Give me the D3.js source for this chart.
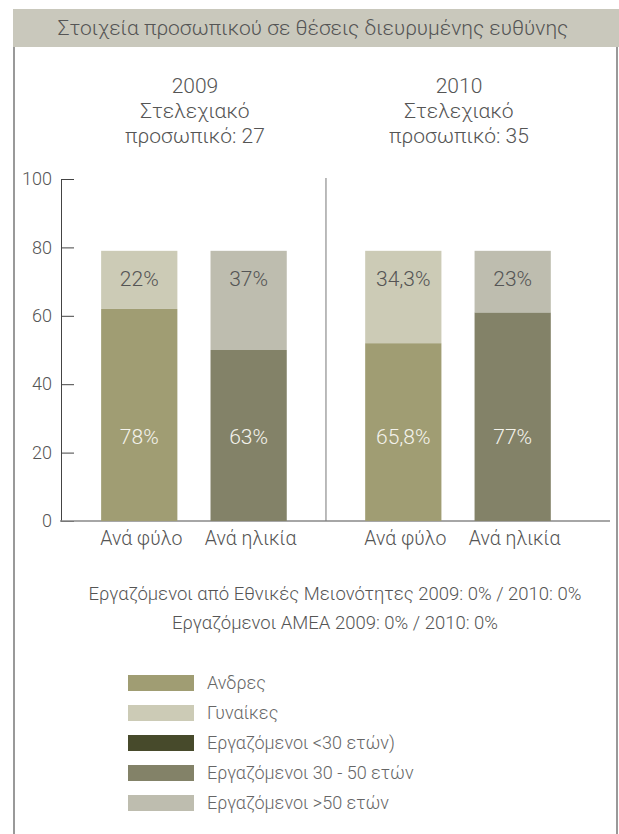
<!DOCTYPE html>
<html lang="el">

<head>
    <meta charset="UTF-8">
    <script src="https://cdn.jsdelivr.net/npm/d3@7"></script>
    <style>
        body {
            margin: 0;
            background: #fff;
        }

        svg text {
            font-family: Roboto, "Noto Sans", sans-serif;
            font-weight: 300;
            fill: #555;
        }

        .axis .domain {
            stroke: #444;
        }

        .axis .tick line {
            stroke: #444;
        }
    </style>
    <title></title>
</head>

<body>
    <div id="chart"></div>
    <script>

        const titleText = "Στοιχεία προσωπικού σε θέσεις διευρυμένης ευθύνης";

        const years = ["2009", "2010"];
        const yearHeads = [
            ["2009", "Στελεχιακό", "προσωπικό: 27"],
            ["2010", "Στελεχιακό", "προσωπικό: 35"]
        ];
        const categories = ["Ανά φύλο", "Ανά ηλικία"];

        // bar segments
        const lower2009 = [62, 50];
        const upper2009 = [17, 29];
        const lower2010 = [52, 61];
        const upper2010 = [27, 18];

        const lowerLabels2009 = ["78%", "63%"];
        const upperLabels2009 = ["22%", "37%"];
        const lowerLabels2010 = ["65,8%", "77%"];
        const upperLabels2010 = ["34,3%", "23%"];

        const yTicks = [0, 20, 40, 60, 80, 100];

        const notes = [
            "Εργαζόμενοι από Εθνικές Μειονότητες 2009: 0% / 2010: 0%",
            "Εργαζόμενοι ΑΜΕΑ 2009: 0% / 2010: 0%"
        ];

        const legendLabels = ["Ανδρες", "Γυναίκες", "Εργαζόμενοι <30 ετών)", "Εργαζόμενοι 30 - 50 ετών", "Εργαζόμενοι >50 ετών"];
        const legendColors = ["#a09d73", "#cccbb6", "#474a2b", "#838268", "#bebdaf"];

        // lower / upper colour for each category
        const lowerColors = [legendColors[0], legendColors[3]];
        const upperColors = [legendColors[1], legendColors[4]];

        const width = 619, height = 834;

        const svg = d3.select("#chart")
            .append("svg")
            .attr("width", width)
            .attr("height", height);

        // frame
        svg.append("line")
            .attr("x1", 14).attr("x2", 14)
            .attr("y1", 40).attr("y2", height)
            .attr("stroke", "#999").attr("stroke-width", 2);
        svg.append("line")
            .attr("x1", 617).attr("x2", 617)
            .attr("y1", 40).attr("y2", height)
            .attr("stroke", "#999").attr("stroke-width", 2);

        // title bar
        svg.append("rect")
            .attr("x", 13).attr("y", 9)
            .attr("width", width - 13).attr("height", 38)
            .attr("fill", "#c9c8bc");
        svg.append("text")
            .attr("x", 313).attr("y", 35)
            .attr("text-anchor", "middle")
            .attr("font-size", 21)
            .text(titleText);

        // scales
        const y = d3.scaleLinear()
            .domain([0, 100])
            .range([521, 179]);

        const x0 = d3.scaleBand()
            .domain(years)
            .range([60, 610])
            .paddingInner(0.297)
            .paddingOuter(0.19)
            .align(0.41);

        const x1 = d3.scaleBand()
            .domain(categories)
            .range([0, x0.bandwidth()])
            .paddingInner(0.303)
            .paddingOuter(0);

        // y axis
        svg.append("g")
            .attr("class", "axis")
            .attr("transform", "translate(61,0)")
            .call(d3.axisLeft(y).tickValues(yTicks).tickSize(-13).tickSizeOuter(0).tickPadding(9))
            .call(g => g.selectAll("text")
                .attr("font-size", 18)
                .attr("font-family", "Roboto, sans-serif")
                .attr("fill", "#555"));

        // baseline
        svg.append("line")
            .attr("x1", 60).attr("x2", 610)
            .attr("y1", y(0)).attr("y2", y(0))
            .attr("stroke", "#888").attr("stroke-width", 1.5);

        // divider between years
        const midX = (x0("2009") + x0.bandwidth() + x0("2010")) / 2;
        svg.append("line")
            .attr("x1", midX).attr("x2", midX)
            .attr("y1", y(100) - 1).attr("y2", y(0))
            .attr("stroke", "#777").attr("stroke-width", 1);

        const groups = [
            { year: "2009", lower: lower2009, upper: upper2009, lowerLabels: lowerLabels2009, upperLabels: upperLabels2009 },
            { year: "2010", lower: lower2010, upper: upper2010, lowerLabels: lowerLabels2010, upperLabels: upperLabels2010 }
        ];

        groups.forEach((grp, gi) => {
            const g = svg.append("g")
                .attr("transform", `translate(${x0(grp.year)},0)`);

            const rows = categories.map((c, i) => ({
                cat: c, i: i,
                lo: grp.lower[i], hi: grp.upper[i],
                loLabel: grp.lowerLabels[i], hiLabel: grp.upperLabels[i]
            }));

            g.selectAll(".lo").data(rows).join("rect")
                .attr("class", "lo")
                .attr("x", d => x1(d.cat))
                .attr("width", x1.bandwidth())
                .attr("y", d => y(d.lo))
                .attr("height", d => y(0) - y(d.lo))
                .attr("fill", d => lowerColors[d.i]);

            g.selectAll(".hi").data(rows).join("rect")
                .attr("class", "hi")
                .attr("x", d => x1(d.cat))
                .attr("width", x1.bandwidth())
                .attr("y", d => y(d.lo + d.hi))
                .attr("height", d => y(d.lo) - y(d.lo + d.hi))
                .attr("fill", d => upperColors[d.i]);

            g.selectAll(".hiLabel").data(rows).join("text")
                .attr("class", "hiLabel")
                .attr("x", d => x1(d.cat) + x1.bandwidth() / 2)
                .attr("y", d => y(d.lo + d.hi) + 35)
                .attr("text-anchor", "middle")
                .attr("font-size", 21)
                .text(d => d.hiLabel);

            g.selectAll(".loLabel").data(rows).join("text")
                .attr("class", "loLabel")
                .attr("x", d => x1(d.cat) + x1.bandwidth() / 2)
                .attr("y", y(0) - 77)
                .attr("text-anchor", "middle")
                .attr("font-size", 21)
                .style("fill", "#f4f3ec")
                .text(d => d.loLabel);

            g.selectAll(".cat").data(rows).join("text")
                .attr("class", "cat")
                .attr("x", d => x1(d.cat) + x1.bandwidth() / 2 + 2)
                .attr("y", y(0) + 24)
                .attr("text-anchor", "middle")
                .attr("font-size", 19.5)
                .text(d => d.cat);

            // heading above each year
            g.selectAll(".head").data(yearHeads[gi]).join("text")
                .attr("class", "head")
                .attr("x", x0.bandwidth() / 2 + 1)
                .attr("y", (d, i) => 93 + i * 25)
                .attr("text-anchor", "middle")
                .attr("font-size", 21)
                .text(d => d);
        });

        // notes
        svg.selectAll(".note").data(notes).join("text")
            .attr("class", "note")
            .attr("x", 335)
            .attr("y", (d, i) => 600 + i * 29)
            .attr("text-anchor", "middle")
            .attr("font-size", 18.5)
            .text(d => d);

        // legend
        const legend = svg.append("g")
            .attr("transform", "translate(128,675)");

        const item = legend.selectAll(".item").data(legendLabels).join("g")
            .attr("class", "item")
            .attr("transform", (d, i) => `translate(0,${i * 30})`);

        item.append("rect")
            .attr("width", 66)
            .attr("height", 16)
            .attr("fill", (d, i) => legendColors[i]);

        item.append("text")
            .attr("x", 79)
            .attr("y", 14)
            .attr("font-size", 18)
            .style("fill", "#666")
            .text(d => d);

    </script>

</body>

</html>
